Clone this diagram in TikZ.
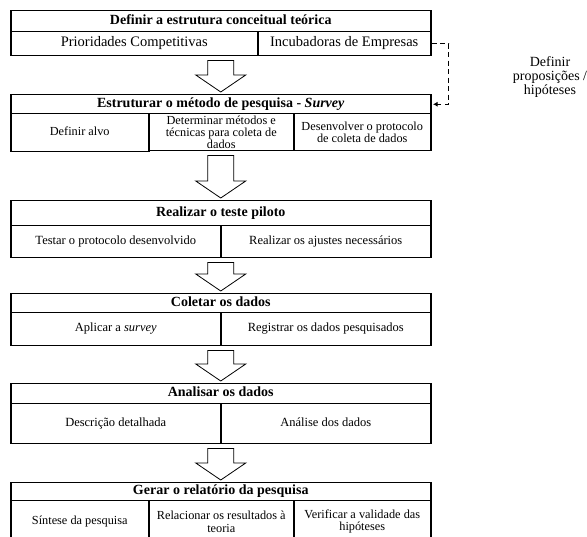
\documentclass[tikz,border=0pt]{standalone}
\usepackage{fontspec}
\setmainfont{Liberation Serif}
\usetikzlibrary{calc,arrows.meta}
\tikzset{
  boxbase/.style={draw=black, line width=1.5pt, rectangle, inner sep=0pt, anchor=north west, align=center},
  titlebox/.style={boxbase, minimum width=420pt, font=\fontsize{14}{15}\selectfont\bfseries, text height=9.5pt, text depth=3pt},
  cellbig/.style={boxbase, font=\fontsize{14.5}{15}\selectfont, text height=9.5pt, text depth=3pt},
  cellbox/.style={boxbase, font=\fontsize{12.5}{12.5}\selectfont, text height=8.5pt, text depth=3pt},
  cellthree/.style={boxbase, font=\fontsize{12.3}{12.3}\selectfont},
  oneline/.style={text height=8.5pt, text depth=3pt},
  bigarrow/.style={draw=black, line width=0.8pt, fill=white, line join=miter},
  dashconn/.style={draw=black, line width=1.4pt, dash pattern=on 5pt off 3.5pt, -{Latex[length=4.5pt,width=5pt]}},
  sidelabel/.style={align=center, font=\fontsize{14}{14}\selectfont, inner sep=0pt}
}
\newcommand{\flowarrow}[2]{%
  \draw[bigarrow] let \p1=($(#1)+(0,-4pt)$), \p2=($(#2)+(0,2pt)$) in
    (\x1-13pt,\y1) -- (\x1+13pt,\y1) -- (\x1+13pt,\y2+17pt) -- (\x1+25pt,\y2+17pt)
    -- (\x1,\y2) -- (\x1-25pt,\y2+17pt) -- (\x1-13pt,\y2+17pt) -- cycle;}
\begin{document}
\begin{tikzpicture}[x=1pt,y=-1pt]
\useasboundingbox (0,0) rectangle (587,537);
\fill[white] (0,0) rectangle (587,537);

% Block 1
\node[titlebox, minimum height=21pt] (t1) at (10,10) {Definir a estrutura conceitual teórica};
\node[cellbig, minimum width=247pt, minimum height=24pt] (c1a) at (10,31) {Prioridades Competitivas};
\node[cellbig, minimum width=173pt, minimum height=24pt] (c1b) at (257,31) {Incubadoras de Empresas};

% Block 2
\node[titlebox, minimum height=19pt] (t2) at (10,94) {Estruturar o método de pesquisa - \textit{Survey}};
\node[cellthree, oneline, minimum width=138pt, minimum height=38pt] (c2a) at (10,113) {Definir alvo};
\node[cellthree, minimum width=145pt, minimum height=37pt] (c2b) at (148,113) {Determinar métodos e\\técnicas para coleta de\\dados};
\node[cellthree, minimum width=137pt, minimum height=37pt] (c2c) at (293,113) {Desenvolver o protocolo\\de coleta de dados};

% Block 3
\node[titlebox, minimum height=25pt] (t3) at (10,200) {Realizar o teste piloto};
\node[cellbox, minimum width=210pt, minimum height=32pt] (c3a) at (10,225) {Testar o protocolo desenvolvido};
\node[cellbox, minimum width=210pt, minimum height=32pt] (c3b) at (220,225) {Realizar os ajustes necessários};

% Block 4
\node[titlebox, minimum height=19pt] (t4) at (10,293) {Coletar os dados};
\node[cellbox, minimum width=210pt, minimum height=33pt] (c4a) at (10,312) {Aplicar a \textit{survey}};
\node[cellbox, minimum width=210pt, minimum height=33pt] (c4b) at (220,312) {Registrar os dados pesquisados};

% Block 5
\node[titlebox, minimum height=20pt] (t5) at (10,383) {Analisar os dados};
\node[cellbox, minimum width=210pt, minimum height=40pt] (c5a) at (10,403) {Descrição detalhada};
\node[cellbox, minimum width=210pt, minimum height=40pt] (c5b) at (220,403) {Análise dos dados};

% Block 6
\node[titlebox, minimum height=18pt] (t6) at (10,482) {Gerar o relatório da pesquisa};
\node[cellthree, oneline, minimum width=138pt, minimum height=42pt] (c6a) at (10,500) {Síntese da pesquisa};
\node[cellthree, minimum width=145pt, minimum height=42pt] (c6b) at (148,500) {Relacionar os resultados à\\teoria};
\node[cellthree, minimum width=137pt, minimum height=42pt] (c6c) at (293,500) {Verificar a validade das\\hipóteses};

% Block arrows
\flowarrow{t1.center |- c1a.south}{t2.north}
\flowarrow{t2.center |- c2b.south}{t3.north}
\flowarrow{t3.center |- c3a.south}{t4.north}
\flowarrow{t4.center |- c4a.south}{t5.north}
\flowarrow{t5.center |- c5a.south}{t6.north}

% Dashed feedback connector and label
\coordinate (bend) at ($(c1b.east)+(17,0)$);
\draw[dashconn] (c1b.east) -- (bend) |- ($(t2.east)+(1.5,0)$);
\node[sidelabel] (lbl) at (550,77) {Definir\\proposições /\\hipóteses};
\end{tikzpicture}
\end{document}
